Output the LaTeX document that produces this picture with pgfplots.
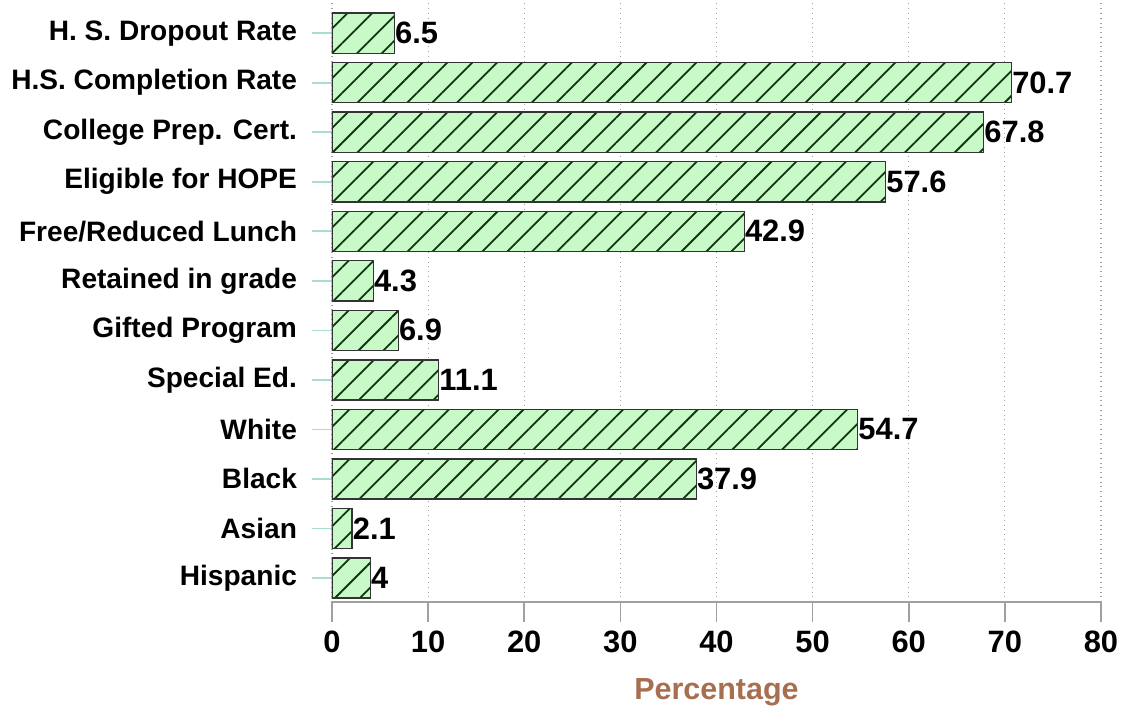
\documentclass[border=0pt]{standalone}
\usepackage{fontspec}
\setmainfont{Liberation Sans}
\usepackage{pgfplots}
\pgfplotsset{compat=1.18}
\usetikzlibrary{patterns.meta}
\definecolor{barFill}{RGB}{200,250,200}
\definecolor{hatch}{RGB}{20,50,20}
\definecolor{labBrown}{RGB}{168,110,80}
\definecolor{tickTeal}{RGB}{170,220,210}
\definecolor{axGray}{RGB}{160,160,160}

\begin{document}
\begin{tikzpicture}
\useasboundingbox (-166bp,-53.5bp) rectangle (395bp,301bp);
\begin{axis}[
  scale only axis,
  width=384.5bp, height=301bp,
  xbar, bar width=0.81,
  xmin=0, xmax=80,
  ymin=-0.485, ymax=11.67,
  xtick={0,10,...,80},
  ytick={0,...,11},
  yticklabels={Hispanic,Asian,Black,White,Special Ed.,Gifted Program,Retained in grade,Free/Reduced Lunch,Eligible for HOPE,College Prep. Cert.,H.S. Completion Rate,H. S. Dropout Rate},
  axis x line*=bottom,
  axis y line*=left,
  y axis line style={draw=none},
  x axis line style={draw=axGray, line width=0.8pt, -},
  xtick style={draw=axGray, line width=0.8pt},
  ytick style={draw=tickTeal, line width=0.8pt},
  tick align=outside,
  major tick length=10bp,
  xmajorgrids,
  grid style={dotted, axGray, line width=0.6pt},
  /pgf/number format/assume math mode=true,
  xticklabel style={font=\fontsize{15.5}{17}\selectfont\bfseries, yshift=-1bp},
  yticklabel style={font=\fontsize{14.1}{16}\selectfont\bfseries, xshift=-4bp},
  xlabel={Percentage},
  xlabel style={font=\fontsize{15.3}{17}\selectfont\bfseries, text=labBrown, yshift=-6bp},
  nodes near coords,
  nodes near coords style={anchor=west, inner sep=0pt, text=black,
    font=\fontsize{15.5}{17}\selectfont\bfseries},
  point meta=explicit symbolic,
]
\addplot[draw=black!80, line width=0.7pt, fill=barFill,
  postaction={pattern={Lines[angle=45, distance=8.8bp, line width=0.9pt]}, pattern color=hatch}]
  table[meta=lab] {
x y lab
4 0 4
2.1 1 2.1
37.9 2 37.9
54.7 3 54.7
11.1 4 11.1
6.9 5 6.9
4.3 6 4.3
42.9 7 42.9
57.6 8 57.6
67.8 9 67.8
70.7 10 70.7
6.5 11 6.5
};
\end{axis}
\end{tikzpicture}
\end{document}
